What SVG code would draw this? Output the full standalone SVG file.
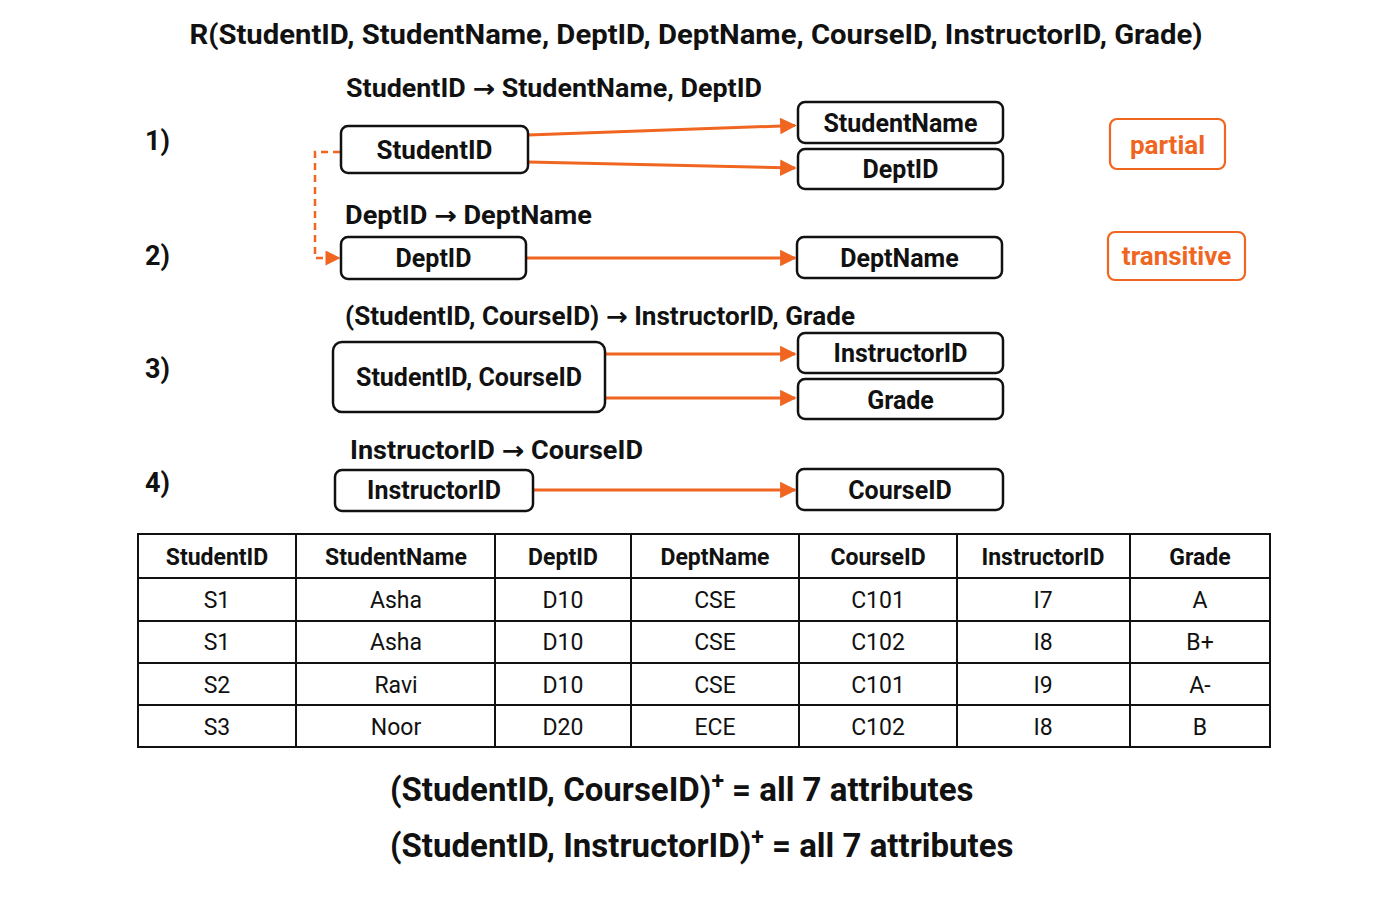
<svg xmlns="http://www.w3.org/2000/svg" width="1400" height="900" viewBox="0 0 1400 900">
<defs>
<style>
.t{font-family:Roboto,"Liberation Sans",Arial,sans-serif;fill:#111}
.b{font-weight:bold}
.arr{font-family:"DejaVu Sans",sans-serif;font-weight:bold}
.node{fill:#fff;stroke:#111;stroke-width:2.5}
.tag{fill:#fff;stroke:#F0651F;stroke-width:2.2}
.tagt{font-family:Roboto,"Liberation Sans",Arial,sans-serif;font-weight:bold;fill:#F0651F;font-size:26px}
.edge{stroke:#F0651F;stroke-width:3;fill:none}
.dash{stroke:#F0651F;stroke-width:2.5;fill:none;stroke-dasharray:7 5}
.grid{stroke:#111;stroke-width:2;fill:none}
.th{font-family:Roboto,"Liberation Sans",Arial,sans-serif;font-weight:bold;font-size:23px;fill:#111}
.td{font-family:Roboto,"Liberation Sans",Arial,sans-serif;font-size:23px;fill:#111}
</style>
<marker id="ah" viewBox="0 0 10 10" refX="9" refY="5" markerWidth="6.5" markerHeight="5.5" markerUnits="strokeWidth" orient="auto">
<path d="M0,0 L10,5 L0,10 Z" fill="#F0651F"/>
</marker>
<marker id="ahs" viewBox="0 0 10 10" refX="9" refY="5" markerWidth="7" markerHeight="6" markerUnits="strokeWidth" orient="auto">
<path d="M0,0 L10,5 L0,10 Z" fill="#F0651F"/>
</marker>
</defs>
<rect width="1400" height="900" fill="#fff"/>

<text id="title" class="t b" x="696" y="44" font-size="28" text-anchor="middle" textLength="1013" lengthAdjust="spacingAndGlyphs">R(StudentID, StudentName, DeptID, DeptName, CourseID, InstructorID, Grade)</text>

<g id="rowlabels" class="t b" font-size="27">
<text x="145" y="150">1)</text>
<text x="145" y="265">2)</text>
<text x="145" y="378">3)</text>
<text x="145" y="492">4)</text>
</g>

<g id="fdlabels" class="t b" font-size="25">
<text x="346" y="97" textLength="416" lengthAdjust="spacingAndGlyphs">StudentID <tspan class="arr">→</tspan> StudentName, DeptID</text>
<text x="345" y="224" textLength="247" lengthAdjust="spacingAndGlyphs">DeptID <tspan class="arr">→</tspan> DeptName</text>
<text x="345" y="325" textLength="510" lengthAdjust="spacingAndGlyphs">(StudentID, CourseID) <tspan class="arr">→</tspan> InstructorID, Grade</text>
<text x="350" y="459" textLength="293" lengthAdjust="spacingAndGlyphs">InstructorID <tspan class="arr">→</tspan> CourseID</text>
</g>

<g id="connectors">
<line class="edge" x1="528" y1="135" x2="795" y2="125.5" marker-end="url(#ah)"/>
<line class="edge" x1="528" y1="162" x2="795" y2="168" marker-end="url(#ah)"/>
<line class="edge" x1="527" y1="258" x2="795" y2="258" marker-end="url(#ah)"/>
<line class="edge" x1="605" y1="354" x2="795" y2="354" marker-end="url(#ah)"/>
<line class="edge" x1="605" y1="398" x2="795" y2="398" marker-end="url(#ah)"/>
<line class="edge" x1="533" y1="490" x2="795" y2="490" marker-end="url(#ah)"/>
<path class="dash" d="M340,152 H315 V258 H339" marker-end="url(#ahs)"/>
</g>

<g id="n-studentid">
<rect class="node" x="341" y="126" width="187" height="47" rx="7"/>
<text class="t b" x="434.5" y="159" font-size="26" text-anchor="middle">StudentID</text>
</g>
<g id="n-studentname">
<rect class="node" x="798" y="102" width="205" height="41" rx="7"/>
<text class="t b" x="900.5" y="132" font-size="25" text-anchor="middle">StudentName</text>
</g>
<g id="n-deptid-r">
<rect class="node" x="798" y="149" width="205" height="40" rx="7"/>
<text class="t b" x="900.5" y="178" font-size="25" text-anchor="middle">DeptID</text>
</g>
<g id="n-deptid-l">
<rect class="node" x="341" y="237" width="185" height="42" rx="7"/>
<text class="t b" x="433.5" y="267" font-size="25" text-anchor="middle">DeptID</text>
</g>
<g id="n-deptname">
<rect class="node" x="797" y="237" width="205" height="41" rx="7"/>
<text class="t b" x="899.5" y="267" font-size="25" text-anchor="middle">DeptName</text>
</g>
<g id="n-studentcourse">
<rect class="node" x="333" y="342" width="272" height="70" rx="9"/>
<text class="t b" x="469" y="386" font-size="25" text-anchor="middle">StudentID, CourseID</text>
</g>
<g id="n-instructorid-r">
<rect class="node" x="798" y="333" width="205" height="40" rx="7"/>
<text class="t b" x="900.5" y="362" font-size="25" text-anchor="middle">InstructorID</text>
</g>
<g id="n-grade">
<rect class="node" x="798" y="379" width="205" height="40" rx="7"/>
<text class="t b" x="900.5" y="409" font-size="25" text-anchor="middle">Grade</text>
</g>
<g id="n-instructorid-l">
<rect class="node" x="335" y="470" width="198" height="41" rx="7"/>
<text class="t b" x="434" y="499" font-size="25" text-anchor="middle">InstructorID</text>
</g>
<g id="n-courseid">
<rect class="node" x="797" y="469" width="206" height="41" rx="7"/>
<text class="t b" x="900" y="499" font-size="25" text-anchor="middle">CourseID</text>
</g>

<g id="tag-partial">
<rect class="tag" x="1110" y="119" width="115" height="50" rx="7"/>
<text class="tagt" x="1167.5" y="154" text-anchor="middle">partial</text>
</g>
<g id="tag-transitive">
<rect class="tag" x="1108" y="232" width="137" height="48" rx="7"/>
<text class="tagt" x="1176.5" y="265" text-anchor="middle">transitive</text>
</g>

<g id="table">
<rect class="grid" x="138" y="534" width="1132" height="213"/>
<g class="grid">
<line x1="138" y1="578" x2="1270" y2="578"/>
<line x1="138" y1="621" x2="1270" y2="621"/>
<line x1="138" y1="663" x2="1270" y2="663"/>
<line x1="138" y1="705" x2="1270" y2="705"/>
<line x1="296" y1="534" x2="296" y2="747"/>
<line x1="495" y1="534" x2="495" y2="747"/>
<line x1="631" y1="534" x2="631" y2="747"/>
<line x1="799" y1="534" x2="799" y2="747"/>
<line x1="957" y1="534" x2="957" y2="747"/>
<line x1="1130" y1="534" x2="1130" y2="747"/>
</g>
<g text-anchor="middle">
<text class="th" x="217" y="565">StudentID</text>
<text class="th" x="396" y="565">StudentName</text>
<text class="th" x="563" y="565">DeptID</text>
<text class="th" x="715" y="565">DeptName</text>
<text class="th" x="878" y="565">CourseID</text>
<text class="th" x="1043" y="565">InstructorID</text>
<text class="th" x="1200" y="565">Grade</text>

<text class="td" x="217" y="608">S1</text>
<text class="td" x="396" y="608">Asha</text>
<text class="td" x="563" y="608">D10</text>
<text class="td" x="715" y="608">CSE</text>
<text class="td" x="878" y="608">C101</text>
<text class="td" x="1043" y="608">I7</text>
<text class="td" x="1200" y="608">A</text>

<text class="td" x="217" y="650">S1</text>
<text class="td" x="396" y="650">Asha</text>
<text class="td" x="563" y="650">D10</text>
<text class="td" x="715" y="650">CSE</text>
<text class="td" x="878" y="650">C102</text>
<text class="td" x="1043" y="650">I8</text>
<text class="td" x="1200" y="650">B+</text>

<text class="td" x="217" y="693">S2</text>
<text class="td" x="396" y="693">Ravi</text>
<text class="td" x="563" y="693">D10</text>
<text class="td" x="715" y="693">CSE</text>
<text class="td" x="878" y="693">C101</text>
<text class="td" x="1043" y="693">I9</text>
<text class="td" x="1200" y="693">A-</text>

<text class="td" x="217" y="735">S3</text>
<text class="td" x="396" y="735">Noor</text>
<text class="td" x="563" y="735">D20</text>
<text class="td" x="715" y="735">ECE</text>
<text class="td" x="878" y="735">C102</text>
<text class="td" x="1043" y="735">I8</text>
<text class="td" x="1200" y="735">B</text>
</g>
</g>

<g id="closures" class="t b" font-size="33">
<text x="390" y="801">(StudentID, CourseID)<tspan font-size="23" dy="-12">+</tspan><tspan dy="12"> = all 7 attributes</tspan></text>
<text x="390" y="857">(StudentID, InstructorID)<tspan font-size="23" dy="-12">+</tspan><tspan dy="12"> = all 7 attributes</tspan></text>
</g>
</svg>
